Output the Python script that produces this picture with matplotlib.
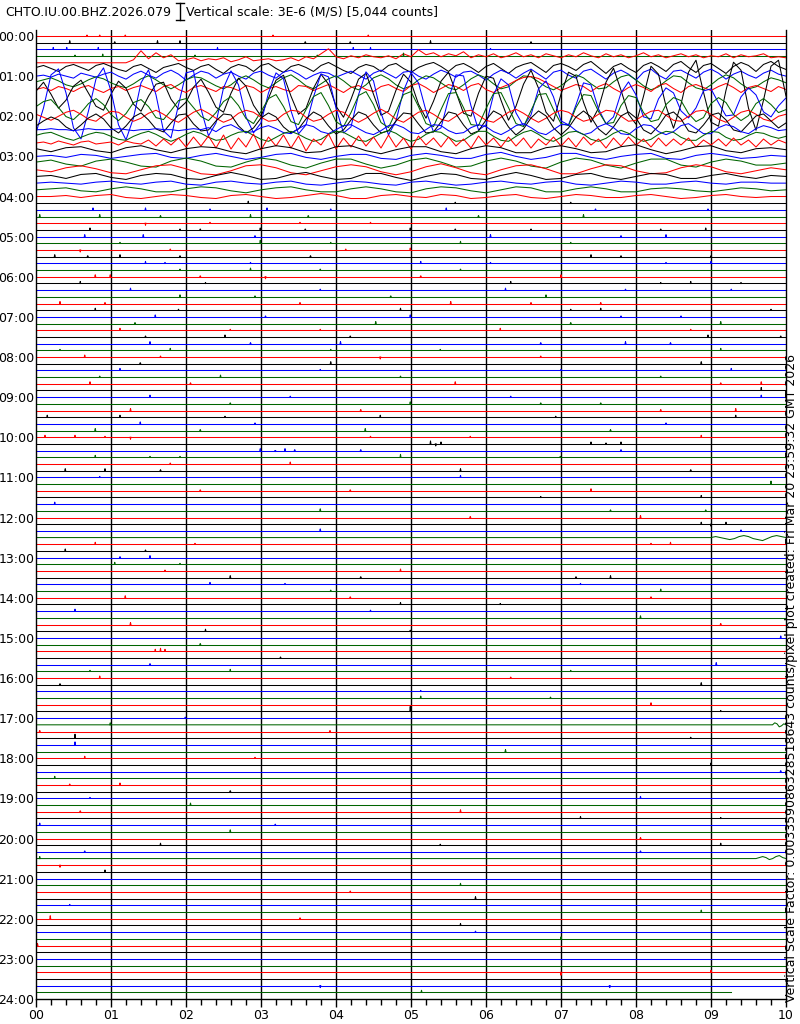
import numpy as np
import matplotlib.pyplot as plt
from matplotlib.lines import Line2D

station = "CHTO.IU.00.BHZ.2026.079"
scale_text = "Vertical scale: 3E-6 (M/S) [5,044 counts]"
side_text = ("Vertical Scale Factor: 0.003359086328518643 counts/pixel "
             "plot created: Fri Mar 20 23:59:32 GMT 2026")

trace_colors = ['#ff0000', '#000000', '#0000ff', '#006400']
n_lines = 144            # 24 h x 6 ten-minute traces
last_end = 9.27          # minutes recorded on the last trace
px_per_hour = 40.125     # trace offsets below are given in pixels

# earthquake traces, offsets (px, up positive) evenly spaced over 0-10 min
active = {
    4: [0, 0, 0, 0, 0, 0, 0, 0, 0, 0, 0, 0, 0,
        3, 12, 4, 10, 5, 8, 2, 3, 5, 2, 4, 3, 5, 1, 3, 6, 2, 3, 4, 2, 3, 5, 2, 6, 4, 9, 14,
        6, 4, 7, 5, 8, 6, 5, 7, 4, 9, 6, 13, 8, 10, 6, 9, 7, 11, 5, 8, 6, 9, 5, 7, 10, 6,
        8, 5, 9, 7, 5, 8, 6, 10, 7, 5, 9, 6, 8, 5, 7, 10, 6, 8, 5, 7, 9, 6, 8, 5, 7, 6, 9,
        5, 8, 6, 7, 9, 5, 6, 5],
    5: [2, 4, 1, -2, 3, 5, 2, -1, 4, 6, 3, 0, -2, 3, 5, 1, -3, 2, 4, 6, 2, -1, 3, 5, 0, -4,
        2, 5, 3, -2, 4, 6, 1, -3, 3, 5, 2, -2, 4, 7, 3, -1, -4, 2, 5, 3, -2, 4, 6, 1, -3, 2,
        5, 7, 3, -2, 4, 6, 2, -3, 3, 6, 1, -4, 2, 5, 7, 2, -3, 4, 6, 3, -1, 5, 8, 2, -4, 3,
        6, 1, -3, 4, 7, 3, -2, 5, 8, 2, -3, 4, 6, 1, -4, 3, 7, 4, -2, 5, 8, 3, 0],
    6: [0, 1, -1, 2, 0, -2, 3, 1, -1, 2, 4, 0, -3, 2, 5, 1, -2, 3, 6, 2, -4, 1, 5, 3, -2, 2,
        4, 0, -3, 3, 5, 1, -2, 4, 6, 2, -3, 1, 4, 3, -1, 2, 5, 1, -3, 3, 6, 2, -2, 4, 5, 0,
        -3, 2, 6, 3, -1, 4, 5, 1, -4, 2, 6, 3, -2, 3, 7, 2, -3, 4, 6, 1, -2, 5, 7, 2, -3, 3,
        6, 2, -4, 4, 7, 1, -3, 5, 6, 2, -2, 4, 7, 3, -3, 2, 5, 1, -2, 3, 6, 2, 0],
    7: [1, 3, 5, 2, -2, -4, -1, 3, 6, 4, 0, -3, -5, -1, 4, 7, 3, -2, -6, -2, 3, 6, 5, 1, -3,
        -6, -2, 4, 7, 3, -2, -5, 0, 5, 8, 3, -3, -6, -1, 4, 7, 2, -4, -7, -2, 5, 8, 4, -2, -6,
        -3, 3, 7, 5, 0, -5, -7, -2, 4, 8, 5, -1, -6, -4, 2, 7, 6, 1, -4, -7, -3, 3, 8, 5, -1,
        -6, -5, 1, 6, 8, 3, -3, -7, -4, 2, 7, 6, 0, -5, -7, -2, 4, 8, 5, -1, -6, -4, 1, 5, 3, 0],
    8: [0, 2, -1, 3, 1, -2, 2, 4, 0, -3, 1, 3, -1, 2, 4, 1, -2, 3, 5, 0, -3, 2, 4, 1, -2, 3,
        2, -1, 4, 2, -3, 1, 3, 0, -2, 4, 3, -1, 2, 5, 1, -3, 2, 4, 0, -2, 3, 5, 1, -2, 4, 6,
        2, -3, 1, 5, 3, -1, 4, 6, 0, -3, 2, 5, 9, 12, 13, 11, 7, 3, -1, 2, 5, 3, -2, 3, 6, 1,
        -3, 2, 5, 2, -2, 4, 6, 1, -3, 3, 5, 2, -1, 3, 6, 2, -3, 2, 4, 1, -2, 3, 0],
    9: [5, 14, 2, -12, -4, 10, 16, 3, -10, -14, 2, 15, 8, -8, -15, 0, 12, 14, -3, -13, -6, 9,
        17, 4, -11,
        -16, 3, 18, 10, -9, -20, -2, 16, 21, 0, -18, -12, 8, 22, 12, -10, -21, -3, 17, 23, 2,
        -19, -15, 6, 22, 14, -8, -22, -5, 15, 24, 4, -17, -20, 3,
        20, 18, -4, -24, -10, 12, 26, 8, -16, -25, 2, 24, 20, -6, -26, -12, 14, 28, 6, -18,
        -28, 0, 30, 22, -10, -32, -8, 24, 36, 4, -26, -30, 6, 34, 26, -12, -34, -4, 30, 36, 0],
    10: [-30, -5, 28, 34, 10, -25, -36, -8, 24, 35, 12, -22, -37, -15, 20, 33, 8, -28, -35,
         -2, 30, 32, -6, -33, -20,
         15, 32, 18, -14, -30, -20, 10, 30, 24, -8, -31, -22, 6, 29, 26, -5, -30, -24, 8, 31,
         22, -10, -32, -18, 12, 30, 20, -8, -29, -25, 4, 28, 27, -3, -27,
         -22, 8, 24, 18, -10, -23, -12, 14, 22, 6, -18, -22, -2, 20, 18, -6, -21, -14, 10, 21,
         8, -14, -16, 4, 15, 10, -8, -15, -5, 12, 14, 0, -13, -12, 6, 15, 8, -9, -14, -3, 5],
    11: [3, 8, 10, 2, -7, -10, -3, 6, 11, 5, -5, -11, -4, 7, 10, 3, -8, -10, -1, 9, 11, 2,
         -7, -11, -3,
         8, 13, 4, -9, -14, -2, 11, 15, 3, -12, -15, 0, 13, 17, 4, -12, -17, -3, 14, 18, 5,
         -13, -18, -2, 15, 18, 3, -14, -17, 0, 16, 17, 2, -15, -16,
         1, 16, 17, 2, -14, -17, -1, 15, 16, 0, -14, -16, 2, 15, 14, -2, -14, -13, 4, 14,
         12, -3, -12, -10, 5, 12, 9, -4, -12, -8, 6, 12, 7, -5, -11, -6, 6, 11, 5, -3, 0],
    12: [2, -1, -4, 0, 4, 6, 2, -3, -5, 1, 5, 4, -1, -5, -2, 3, 6, 2, -3, -6, -1, 4, 7, 3,
         -2, -6, -3, 3, 6, 4, -1, -5, -4, 2, 6, 5, -1, -5, -3, 2, 6, 4, -2, -6, -2, 3, 7, 3,
         -3, -6, -1, 4, 6, 2, -3, -5, 0, 5, 6, 1, -4, -6, -1, 4, 7, 3, -2, -6, -2, 3, 6, 4,
         -1, -5, -3, 2, 6, 5, 0, -5, -4, 1, 5, 6, 1, -4, -5, 0, 5, 6, 2, -3, -6, -1, 4, 6, 2,
         -3, -5, 0, 2],
    13: [-3, 2, 6, 3, -4, -8, -2, 5, 9, 4, -5, -10, -3, 6, 10, 3, -6, -9, 0, 8, 9, -1, -8,
         -7, 2, 9, 8, -3, -10, -5, 5, 10, 6, -4, -10, -6, 4, 11, 7, -3, -11, -7, 3, 11, 8,
         -2, -10, -8, 2, 10, 9, -1, -10, -9, 1, 11, 9, -2, -11, -8, 3, 12, 8, -4, -12, -6, 5,
         12, 7, -5, -12, -5, 6, 12, 6, -6, -12, -4, 7, 11, 5, -7, -11, -3, 8, 11, 4, -8, -10,
         -2, 8, 10, 3, -7, -9, -1, 7, 9, 2, -5, 0],
    14: [0, 0, 1, 0, 0, -1, 0, 1, 0, 0, 0, 1, 0, -1, 0, 0, 1, 0, 0, -1, 0, 1, 0, 2, -2, 3,
         5, 1, -3, -2, 2, 4, 1, -3, -4, 1, 5, 3, -2, -4, 0, 4, 5, 1, -3, -5, -1, 4, 5, 2, -3,
         -4, 0, 5, 4, -1, -4, -3, 2, 5, 3, -2, -5, -1, 4, 6, 2, -3, -5, 0, 5, 5, -1, -5, -3,
         3, 6, 2, -4, -5, 1, 5, 4, -2, -5, -2, 4, 6, 1, -4, -4, 2, 5, 3, -2, -4, 1, 4, 2, -1, 0],
    15: [1, 3, 4, 1, -2, -4, -1, 2, 4, 3, 0, -3, -4, 0, 3, 5, 2, -2, -5, -2, 2, 5, 3, -1,
         -4, -3, 1, 4, 5, 1, -3, -5, -1, 3, 5, 2, -2, -5, -3, 2, 5, 4, 0, -4, -5, -1, 3, 6,
         3, -2, -5, -3, 2, 5, 4, -1, -5, -4, 1, 5, 5, 0, -4, -5, 0, 4, 6, 2, -3, -5, -1, 4, 5,
         2, -3, -5, -2, 3, 6, 3, -2, -5, -3, 2, 5, 4, -1, -4, -4, 1, 5, 4, -1, -4, -3, 1, 4,
         3, 0, -2, 0],
    16: [0, 1, -1, 2, 0, -2, 1, 2, -1, 0, 1, -2, 2, 0, -1, 3, -3, 4, -2, 5, -4, 6, -3, 7,
         -5, 8, -6, 5, -4, 9, -7, 6, -3, 8, -5, 7, -8, 4, -2, 9, -6, 5, -4, 7, -3, 6, -5, 8,
         -4, 5, -6, 7, -2, 5, -4, 6, -3, 4, -5, 7, -2, 5, -4, 6, -3, 5, -5, 4, -2, 6, -3, 5,
         -4, 6, -2, 4, -5, 5, -3, 6, -2, 4, -4, 5, -3, 4, -2, 5, -4, 3, -2, 4, -3, 5, -2, 3,
         -4, 4, -2, 3, 0],
    17: [1, -2, 2, 3, -1, -3, 2, 4, 0, -3, 1, 3, 2, -2, -4, 1, 4, 2, -3, -2, 3, 4, -1, -4,
         0, 3, 3, -2, -4, 1, 4, 2, -3, -3, 2, 4, 1, -3, -2, 3, 5, 0, -4, -1, 3, 4, -1, -3, 1,
         2, 0],
    18: [0, 1, -1, 2, 1, -2, 0, 2, 3, -1, -2, 1, 3, 0, -3, -1, 2, 3, -1, -3, 0, 2, 2, -2,
         -3, 1, 3, 1, -2, -2, 2, 4, 0, -3, -1, 3, 3, -1, -3, 0, 2, 3, -2, -3, 1, 3, 1, -2, -1,
         1, 0],
    19: [1, 3, -1, -3, 2, 4, 1, -3, -4, 2, 5, 2, -3, -4, 1, 5, 3, -2, -5, 0, 4, 4, -1, -5,
         -2, 3, 5, 1, -4, -3, 2, 5, 2, -3, -5, 1, 5, 3, -2, -5, 0, 4, 4, -2, -4, 1, 4, 2, -2,
         -2, 0],
    20: [0, -2, 2, 4, 1, -3, -4, 0, 4, 5, 1, -4, -5, -1, 4, 5, 2, -3, -5, -1, 3, 5, 3, -2,
         -5, -2, 3, 6, 2, -3, -5, 0, 4, 5, 1, -4, -4, 1, 5, 4, -1, -4, -3, 2, 5, 3, -2, -4,
         -1, 2, 0],
    21: [0, 1, -2, 2, 3, -1, -3, 1, 3, 2, -2, -3, 1, 4, 1, -3, -2, 2, 4, 0, -3, -2, 3, 3,
         -1, -4, 0, 3, 2, -2, -3, 1, 4, 1, -3, -2, 2, 3, -1, -3, 0, 3, 2, -2, -2, 1, 3, 0, -2,
         1, 0],
    22: [0, 1, 0, -1, 1, 2, 0, -1, 1, 2, -1, -2, 1, 2, 0, -1, 1, 2, -1, -2, 0, 2, 1, -1, -2,
         1, 2, 0, -2, -1, 1, 2, 0, -1, 1, 2, -1, -2, 0, 2, 1, -1, -1, 1, 2, 0, -1, 1, 1, 0, 0],
    23: [0, 1, 2, -1, -2, 1, 3, 1, -2, -2, 1, 3, 2, -1, -3, 0, 2, 3, 0, -2, -2, 1, 3, 1, -2,
         -3, 1, 3, 2, -1, -3, 0, 3, 2, -2, -2, 1, 3, 1, -2, -2, 1, 2, 1, -1, -2, 0, 2, 1, -1, 0],
    24: [0, 0, 1, -1, 1, 2, -1, -2, 0, 2, 1, -1, -2, 1, 2, 0, -2, -1, 1, 3, 1, -2, -2, 1, 2,
         0, -1, 2, 1, -2, -1, 1, 2, -1, -2, 0, 2, 1, -1, -1, 1, 2, 0, -2, -1, 1, 2, 0, -1, 0, 0],
}

# short wiggles at the end of some quiet traces: start minute, offsets (px)
late_start = {75: 9.0, 103: 9.82, 123: 9.6}
late_vals = {
    75: [0, 1, 0, -1, -2, -1, 1, 2, 1, -1, -2, -3, -1, 1, 2, 1, 0],
    103: [0, 2, 1, -2, -1, 1, 0],
    123: [0, 1, 2, 1, -1, 0, 2, 3, 1, 0],
}

# small blips on the quiet traces: trace index, minute, height (px)
blip_line = [0, 0, 0, 0, 0, 1, 1, 1, 1, 1, 1, 1, 1, 2, 2, 2, 2, 2, 2, 2, 3, 3, 3, 3, 3,
             25, 25, 25, 26, 26, 26, 26, 26, 26, 26, 26, 27, 27, 27, 27, 27, 27, 27,
             28, 28, 28, 28, 29, 29, 29, 29, 29, 29, 29, 29, 29, 29,
             30, 30, 30, 30, 30, 30, 31, 31, 31, 31, 31, 32, 32, 32, 32,
             33, 33, 33, 33, 33, 33, 33, 33, 34, 34, 34, 34, 34, 34, 34,
             35, 35, 35, 35, 36, 36, 36, 36, 36, 36, 37, 37, 37, 37, 37, 37,
             38, 38, 38, 38, 38, 39, 39, 39, 39, 40, 40, 40, 40, 40, 40,
             41, 41, 41, 41, 41, 41, 42, 42, 42, 42, 42, 43, 43, 43, 43,
             44, 44, 44, 44, 44, 45, 45, 45, 45, 45, 46, 46, 46, 46, 46, 46,
             47, 47, 47, 47, 47, 48, 48, 48, 48, 49, 49, 49, 50, 50, 50, 50,
             51, 51, 51, 51, 52, 52, 52, 52, 52, 53, 54, 54, 54, 54, 55, 55, 55, 55,
             56, 56, 56, 56, 57, 57, 57, 57, 57, 57, 58, 58, 58, 59, 59, 59, 59,
             60, 60, 60, 60, 60, 60, 60, 61, 61, 61, 61, 61, 61, 62, 62, 62, 62, 62, 62,
             63, 63, 63, 63, 63, 64, 64, 65, 65, 65, 65, 65, 66, 66, 67, 68, 68, 68,
             69, 69, 70, 71, 71, 71, 72, 72, 73, 73, 73, 74, 74,
             76, 76, 76, 76, 77, 77, 78, 78, 79, 79, 80, 80,
             81, 81, 81, 81, 82, 82, 82, 83, 83, 84, 84, 84, 85, 85, 86, 86, 87,
             88, 88, 89, 89, 90, 91, 92, 92, 92, 93, 94, 94, 95, 95, 95, 96, 96,
             97, 97, 98, 99, 99, 100, 101, 101, 102, 103, 104, 104, 105, 105, 106, 107,
             108, 108, 109, 110, 111, 112, 112, 113, 114, 114, 115, 116, 116, 117, 117,
             118, 118, 119, 120, 121, 121, 121, 122, 122, 123, 124, 125,
             127, 128, 129, 130, 131, 132, 132, 133, 134, 135, 136, 140, 140, 142, 142, 143]
blip_min = [0.68, 0.85, 1.19, 3.16, 4.43, 0.45, 1.05, 1.62, 1.92, 3.59, 4.19, 5.26, 6.60,
            0.23, 0.41, 0.83, 2.42, 4.23, 4.46, 6.06, 0.52, 0.89, 2.12, 3.75, 4.90,
            2.83, 5.59, 7.13, 0.76, 1.46, 2.32, 3.08, 3.93, 5.47, 7.46, 8.96,
            0.05, 0.85, 1.66, 2.86, 3.63, 5.90, 7.30,
            1.46, 2.32, 3.52, 4.46, 0.72, 1.92, 2.19, 2.99, 3.59, 4.99, 5.59, 6.60, 8.33, 8.93,
            0.65, 1.43, 2.92, 6.06, 7.80, 8.40, 1.12, 2.99, 3.93, 5.66, 7.13, 0.59, 1.79, 4.13, 4.99,
            0.25, 0.69, 1.12, 1.92, 3.66, 7.40, 7.80, 9.00, 1.46, 1.72, 2.86, 5.13, 6.06, 8.40, 9.00,
            1.92, 2.86, 3.79, 5.66, 0.79, 0.99, 2.19, 3.06, 5.13, 7.00, 0.59, 2.26, 6.33, 8.33, 8.73, 9.40,
            1.26, 3.79, 6.26, 7.86, 9.27, 1.92, 2.92, 4.73, 6.80, 0.32, 0.92, 3.52, 5.53, 6.60, 7.53,
            0.79, 1.90, 4.86, 7.13, 7.53, 9.80, 1.59, 3.06, 4.99, 7.80, 8.60, 1.32, 4.53, 7.13, 9.13,
            1.12, 2.59, 3.79, 6.19, 8.73, 1.46, 2.52, 4.19, 8.96, 9.93, 1.52, 2.86, 4.06, 6.73, 7.86, 8.46,
            0.32, 1.79, 3.93, 5.39, 9.13, 0.65, 1.66, 4.59, 6.73, 1.39, 3.93, 8.87, 1.12, 3.79, 7.00, 9.27,
            0.85, 2.46, 4.86, 8.33, 0.72, 2.06, 5.59, 9.13, 9.67, 9.67, 1.52, 3.39, 6.33, 9.67,
            2.59, 4.99, 6.73, 7.53,
            1.26, 4.33, 8.33, 9.33, 0.15, 1.12, 2.52, 4.59, 6.93, 9.33, 1.39, 2.92, 8.40,
            0.79, 2.19, 4.39, 7.66,
            0.12, 0.52, 0.92, 1.26, 4.46, 5.79, 8.87, 5.26, 5.33, 5.40, 7.40, 7.60, 7.80,
            2.99, 3.19, 3.32, 3.45, 4.33, 7.80,
            0.79, 1.52, 1.92, 4.86, 6.99, 1.79, 3.39, 0.39, 0.92, 1.66, 5.66, 8.73, 0.85, 5.66,
            9.80, 2.19, 4.19, 7.40,
            6.73, 8.87, 0.25, 3.79, 7.66, 8.93, 5.79, 8.06, 8.87, 9.00, 9.20, 3.79, 9.40,
            0.79, 2.12, 8.20, 8.46, 0.39, 1.46, 1.12, 1.52, 1.05, 1.92,
            1.72, 4.86,
            2.59, 4.33, 7.20, 7.66, 2.32, 3.32, 7.26, 3.93, 8.33, 1.19, 4.19, 8.20, 4.86, 6.19,
            0.52, 4.46, 8.06,
            1.26, 9.13, 2.26, 4.99, 9.93, 2.19, 1.59, 1.66, 1.72, 3.26, 1.52, 9.07, 0.72, 2.59,
            7.13, 0.85, 6.33,
            0.32, 8.87, 5.13, 5.13, 6.86, 8.20, 4.99, 9.13, 1.99, 0.99, 0.05, 3.92, 0.52, 8.73,
            0.52, 6.26,
            0.65, 2.92, 9.00, 9.93, 0.25, 0.45, 1.12, 2.59, 0.72, 8.06, 2.06, 0.59, 5.66, 7.26,
            9.13,
            0.05, 3.19, 2.59, 8.06, 1.66, 5.39, 9.13, 0.65, 8.06, 0.05, 0.32, 0.92,
            5.66, 4.19, 5.86, 0.45, 8.87, 0.19, 3.52, 5.66, 5.86, 7.00, 0.02, 7.00, 9.00, 3.79,
            7.65, 5.14]
blip_amp = [1, 1, 1, 1, 1, 2, 1, 2, 2, 1, 1, 2, 1, 2, 2, 2, 2, 2, 2, 1, 1, 2, 1, 1, 3,
            2, 1, 1, 2, 2, 1, 2, 1, 2, 1, 1, 2, 2, 1, 2, 1, 1, 2,
            -2, 1, 1, 1, 2, 1, 1, 2, 1, 2, 1, 1, 1, 2,
            2, 2, 1, 2, 1, 2, 1, 3, 1, 2, 1, -2, 1, 1, 2,
            2, 1, 2, 1, 1, 2, 1, 1, 2, 1, 1, 2, 1, 1, 2,
            1, 2, 1, 1, 2, 2, 1, -2, 1, 2, 2, 1, 2, 1, 2, 1,
            2, 1, 2, 1, 1, 2, 1, 1, 2, 2, 1, 1, 2, 1, 1,
            2, 1, 2, 1, 2, 1, 2, 1, 2, 1, 1, 1, 2, 1, 2,
            2, 1, 1, 2, 1, 1, 2, 1, 2, 1, 2, 1, 2, 1, 2, 1,
            1, 2, 1, 1, 2, 2, 1, -2, 1, 1, 2, 2, 2, 1, 1, 2,
            1, 2, 1, 1, 2, 1, 2, 1, 2, 3, 2, 1, 1, 2, 1, 2, 1, 1,
            2, 1, 1, 2, 2, 2, 1, 2, 1, 2, 2, 1, 1, 2, 1, 2, 1,
            2, 2, 1, -2, 1, 1, 2, 3, -2, 2, 2, 1, 2, 2, -1, 2, 1, 1, 1,
            2, 1, 1, 3, 1, 1, 2, 2, 2, 1, 2, 1, 1, 2, 3, 1, 1, 2,
            1, 2, 2, 2, 1, 1, 1, 2, 2, -2, 2, 2, 1,
            2, 1, 1, 2, 2, 1, 1, 2, 2, 1, 1, 2,
            2, 1, 1, 2, 2, 1, 1, 1, 2, 2, 1, 1, 2, 1, 2, 1, 2,
            2, 1, 2, 1, 2, 1, 2, 3, 2, 1, 1, 2, 1, 2, 1, 2, 1,
            1, 2, 1, 2, 1, 2, 5, 1, 1, 2, 1, 1, 4, 1, 3, 2,
            2, 1, 2, 1, 2, 1, 2, 1, 1, 2, 2, 1, 2, 2, 1,
            2, 1, 2, 1, 2, 1, 2, 1, 1, 2, -2, 2,
            2, 1, 2, 1, 2, 3, 1, 2, 1, 2, 2, -3, 2, -2, -2, 2]

fig = plt.figure(figsize=(8, 10.24), dpi=100)
ax = fig.add_axes([36 / 800, 1 - 999 / 1024, 750 / 800, 969 / 1024])
ax.set_xlim(0, 10)
ax.set_ylim(24, -0.15)

# minute grid
for m in range(1, 10):
    ax.axvline(m, color='black', lw=1.0, zorder=1)

lw = 0.75
for i in range(n_lines):
    base = i / 6
    col = trace_colors[i % 4]
    if i in active:
        v = np.array(active[i], dtype=float)
        t = np.linspace(0, 10, len(v))
    elif i in late_start:
        v = np.array([0.0] + late_vals[i], dtype=float)
        t = np.concatenate([[0], np.linspace(late_start[i], 10, len(late_vals[i]))])
    else:
        end = last_end if i == n_lines - 1 else 10
        t = np.array([0, end])
        v = np.zeros(2)
    ax.plot(t, base - v / px_per_hour, color=col, lw=lw, zorder=2)

# blips drawn as thin spikes
blip_amp = np.array(blip_amp, dtype=float)
hw = 0.006
for ln, m, a in zip(blip_line, blip_min, blip_amp):
    base = ln / 6
    ax.plot([m - hw, m, m + hw], [base, base - a / px_per_hour, base],
            color=trace_colors[ln % 4], lw=lw, zorder=2)

for s in ['left', 'right', 'bottom']:
    ax.spines[s].set_linewidth(1.0)
ax.spines['top'].set_visible(False)

ax.set_xticks(range(11))
ax.set_xticklabels([f"{m:02d}" for m in range(11)])
ax.set_xticks(np.arange(0, 10.01, 0.2), minor=True)
ax.tick_params(axis='x', which='major', length=6, width=1, labelsize=9, pad=1)
ax.tick_params(axis='x', which='minor', length=4, width=1)
ax.set_yticks(range(25))
ax.set_yticklabels([f"{h:02d}:00" for h in range(25)])
ax.tick_params(axis='y', length=0, labelsize=9, pad=1)

# header
fig.text(5 / 800, 1 - 12 / 1024, station, fontsize=9, va='center', ha='left')
bx = 180 / 800
y0, y1 = 1 - 3 / 1024, 1 - 20 / 1024
cap = 4 / 800
fig.add_artist(Line2D([bx, bx], [y0, y1], color='black', lw=1))
fig.add_artist(Line2D([bx - cap, bx + cap], [y0, y0], color='black', lw=1))
fig.add_artist(Line2D([bx - cap, bx + cap], [y1, y1], color='black', lw=1))
fig.text(186 / 800, 1 - 12 / 1024, scale_text, fontsize=9, va='center', ha='left')

fig.text(792 / 800, 1 - 1002 / 1024, side_text, rotation=90, fontsize=9,
         ha='center', va='bottom')

fig.savefig('out.png', dpi=100)
